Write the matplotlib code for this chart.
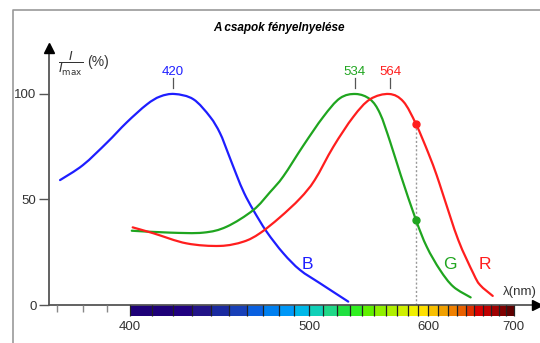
import numpy as np
import matplotlib.pyplot as plt
from matplotlib.lines import Line2D
from matplotlib.path import Path
from matplotlib.patches import PathPatch
from matplotlib.ticker import FixedLocator, FixedFormatter

plt.rcParams['font.family'] = ['Liberation Sans', 'DejaVu Sans']

# absorption curves (wavelength nm, percent)
blue_lam = [371, 380, 390, 398.5, 407.6, 413.9, 421, 430.5, 439.3, 444.7, 449.2,
            454.1, 458.5, 463.9, 472.1, 482.7, 493.8, 507.8, 529]
blue_val = [59.2, 66.3, 77, 86.5, 95, 98.8, 100, 97.5, 89.2, 81.5, 72,
            61.5, 53, 45, 34.7, 24.5, 16.6, 10.3, 1.6]

green_lam = [400.8, 418.7, 435.7, 448.4, 463.9, 474.2, 482.7, 496, 510.2, 522.6,
             535, 546.6, 555, 563.8, 573.5, 587.8, 598.4, 612, 626.2, 645.8]
green_val = [35.2, 34.3, 34.3, 37.1, 45, 53.5, 61, 75.5, 89.2, 98,
             100, 97.5, 90.8, 77.5, 61.5, 40.3, 27.6, 16.6, 8.7, 3.6]

red_lam = [401.2, 410.7, 427, 444.7, 458, 467.9, 480.4, 493.8, 504, 517.6, 533,
           546.6, 563, 575.9, 587.8, 600, 608.5, 615.4, 631.7, 648.9, 656.9, 672.6]
red_val = [36.8, 34, 29.2, 28, 30, 34, 41.5, 50.5, 59.2, 75, 89.2,
           97.5, 100, 96.4, 85.8, 72, 61.5, 52, 30.8, 15, 9.5, 4.3]

peaks = [420, 534, 564]
peak_names = ['420', '534', '564']
curve_labels = ['B', 'G', 'R']
label_lam = [498.6, 622.6, 663]
marker_lam = 588
marker_green = 40.3
marker_red = 85.8

# spectrum strip, one colour every 10 nm from 400 to 690
strip_lam = list(range(400, 700, 10))
strip_colors = ['#1e0078', '#1e0078', '#200080', '#221488', '#1a2aa0', '#1840b8',
                '#0a60e0', '#0080f0', '#0098f8', '#00b8e8', '#10d0b8', '#20d888',
                '#20e040', '#30f020', '#60f000', '#90f000', '#b0f000', '#d0f000',
                '#f0f000', '#ffe000', '#f8c000', '#f0a000', '#f08000', '#e86000',
                '#e03000', '#d80000', '#c00000', '#a00000', '#800000', '#600000']

x_labels = [400, 500, 600, 700]
y_ticks = [0, 50, 100]

BLUE = '#1e1eff'
GREEN = '#1fa51f'
RED = '#ff1e1e'
AX = '#555555'


def fwd(lam):
    with np.errstate(divide='ignore'):
        return -1000.0 / np.asarray(lam, dtype=float)


def inv(u):
    with np.errstate(divide='ignore'):
        return -1000.0 / np.asarray(u, dtype=float)


def smooth_path(lam, val):
    # bezier path through the read points (catmull-rom handles in scale space)
    p = np.column_stack([fwd(lam), val])
    p = np.vstack([p[0], p, p[-1]])
    verts = [p[1]]
    codes = [Path.MOVETO]
    for i in range(1, len(p) - 2):
        c1 = p[i] + (p[i + 1] - p[i - 1]) / 6
        c2 = p[i + 1] - (p[i + 2] - p[i]) / 6
        verts += [c1, c2, p[i + 1]]
        codes += [Path.CURVE4] * 3
    verts = np.array(verts)
    verts[:, 0] = inv(verts[:, 0])
    return Path(verts, codes)


def main():
    fig = plt.figure(figsize=(5.4, 3.43), dpi=100)
    ax = fig.add_axes([49 / 540, 1 - 305 / 343, 488 / 540, 257 / 343])
    ax.set_xscale('function', functions=(fwd, inv))
    ax.set_xlim(366.8, 733.6)
    ax.set_ylim(0, 121.8)
    ax.set_axisbelow(False)

    for s in ['top', 'right']:
        ax.spines[s].set_visible(False)
    for s in ['left', 'bottom']:
        ax.spines[s].set_color(AX)
        ax.spines[s].set_linewidth(1.3)

    # arrow heads on the axes
    ax.plot([733.6], [0], marker='>', ms=7, color='black', clip_on=False, zorder=5)
    ax.plot([366.8], [121.8], marker='^', ms=6.5, color='black', clip_on=False, zorder=5)

    # spectrum strip under the axis
    ax.bar(strip_lam, -5.2, width=10, align='edge', color=strip_colors,
           linewidth=0, clip_on=False, zorder=1)

    major = list(range(400, 701, 10))
    ax.xaxis.set_major_locator(FixedLocator(major))
    ax.xaxis.set_major_formatter(FixedFormatter(
        [str(v) if v in x_labels else '' for v in major]))
    ax.xaxis.set_minor_locator(FixedLocator([370, 380, 390]))
    ax.tick_params(axis='x', which='major', direction='out', length=7.8,
                   width=0.9, color='#222222', pad=3.5, labelsize=9.5, labelcolor='#333333')
    ax.tick_params(axis='x', which='minor', direction='out', length=5,
                   width=1, color='#888888')
    ax.set_yticks(y_ticks)
    ax.tick_params(axis='y', direction='out', length=7, width=1, color=AX,
                   pad=2, labelsize=9.5, labelcolor='#333333')

    for lam, val, c in [(blue_lam, blue_val, BLUE), (green_lam, green_val, GREEN),
                        (red_lam, red_val, RED)]:
        ax.add_patch(PathPatch(smooth_path(lam, val), fill=False, edgecolor=c,
                               lw=1.6, capstyle='round', zorder=3))

    ax.plot([marker_lam, marker_lam], [0, marker_red], color='#999999', lw=1,
            ls=(0, (1.5, 1.5)), zorder=1.5)
    ax.plot([marker_lam], [marker_red], 'o', color=RED, ms=5, zorder=4)
    ax.plot([marker_lam], [marker_green], 'o', color=GREEN, ms=5, zorder=4)

    for lam, name, c in zip(peaks, peak_names, [BLUE, GREEN, RED]):
        ax.plot([lam, lam], [102.8, 107.6], color='#555555', lw=0.9)
        ax.text(lam, 110.6, name, color=c, fontsize=9.5, ha='center', va='center')

    for lam, name, c in zip(label_lam, curve_labels, [BLUE, GREEN, RED]):
        ax.text(lam, 19, name, color=c, fontsize=12.5, ha='center', va='center')

    fig.text(537 / 540, 1 - 292 / 343, 'λ(nm)', color='#333333', fontsize=9.5,
             ha='right', va='center')
    fig.text(58 / 540, 1 - 64 / 343, r'$\dfrac{I}{I_{\mathrm{max}}}$',
             color='#333333', fontsize=9, ha='left', va='center')
    fig.text(87 / 540, 1 - 62 / 343, '(%)', color='#333333', fontsize=10,
             ha='left', va='center')
    fig.text(279 / 540, 1 - 28 / 343, 'A csapok fényelnyelése', fontsize=8.5,
             fontweight='bold', fontstyle='italic', ha='center', va='center')

    # outer frame (left and top edge)
    fig.add_artist(Line2D([13 / 540, 13 / 540, 1], [0, 1 - 10 / 343, 1 - 10 / 343],
                          color='#999999', lw=1.2, transform=fig.transFigure))

    fig.savefig('out.png', dpi=100)


if __name__ == '__main__':
    main()
